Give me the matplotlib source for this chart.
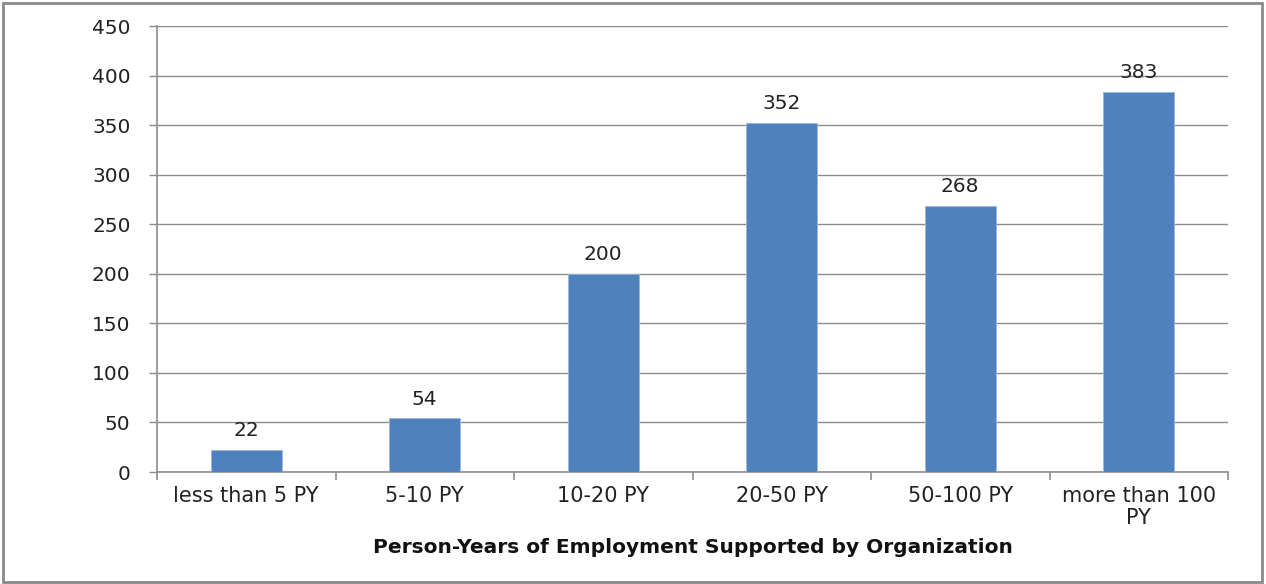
import matplotlib
matplotlib.use("Agg")
import matplotlib.pyplot as plt
from matplotlib.patches import Rectangle

categories = ["less than 5 PY", "5-10 PY", "10-20 PY", "20-50 PY", "50-100 PY", "more than 100\nPY"]
values = [22, 54, 200, 352, 268, 383]
y_ticks = [0, 50, 100, 150, 200, 250, 300, 350, 400, 450]
x_title = "Person-Years of Employment Supported by Organization"

plt.rcParams['font.family'] = ['DejaVu Sans']

fig = plt.figure(figsize=(12.66, 5.84), dpi=100)
ax = fig.add_axes([157/1266, 1 - 472/584, (1228-157)/1266, (472-26)/584])

x = list(range(len(categories)))
ax.bar(x, values, width=0.4, color="#4F81BD", edgecolor="#9BB7DA", linewidth=0.6, zorder=3)
for xi, v in zip(x, values):
    ax.text(xi, v + 10, str(v), ha="center", va="bottom", fontsize=14.5, color="#222222", zorder=4)

ax.set_xlim(-0.5, len(categories) - 0.5)
ax.set_ylim(0, 450)
ax.set_yticks(y_ticks)
ax.set_yticklabels([str(t) for t in y_ticks], fontsize=14.5, color="#222222")
ax.yaxis.grid(True, color="#8c8c8c", linewidth=1.0, zorder=0)
ax.set_axisbelow(True)

ax.set_xticks(x)
ax.set_xticklabels(categories, fontsize=15, linespacing=1.15, color="#222222")
ax.tick_params(axis="x", length=0, pad=10)
ax.set_xticks([i - 0.5 for i in range(len(categories) + 1)], minor=True)
ax.tick_params(axis="x", which="minor", length=6, color="#8c8c8c", width=1.2)
ax.tick_params(axis="y", length=6, color="#8c8c8c", width=1.0, pad=13)

for s in ["top", "right"]:
    ax.spines[s].set_visible(False)
for s in ["left", "bottom"]:
    ax.spines[s].set_color("#8c8c8c")
    ax.spines[s].set_linewidth(1.2)

ax.set_xlabel(x_title, fontsize=14.5, fontweight="bold", labelpad=7, color="#111111")

fig.patches.append(Rectangle((3/1266, 2/584), 1259/1266, 579/584, transform=fig.transFigure,
                             fill=False, edgecolor="#8a8a8a", linewidth=2))

fig.savefig("out.png", dpi=100)
